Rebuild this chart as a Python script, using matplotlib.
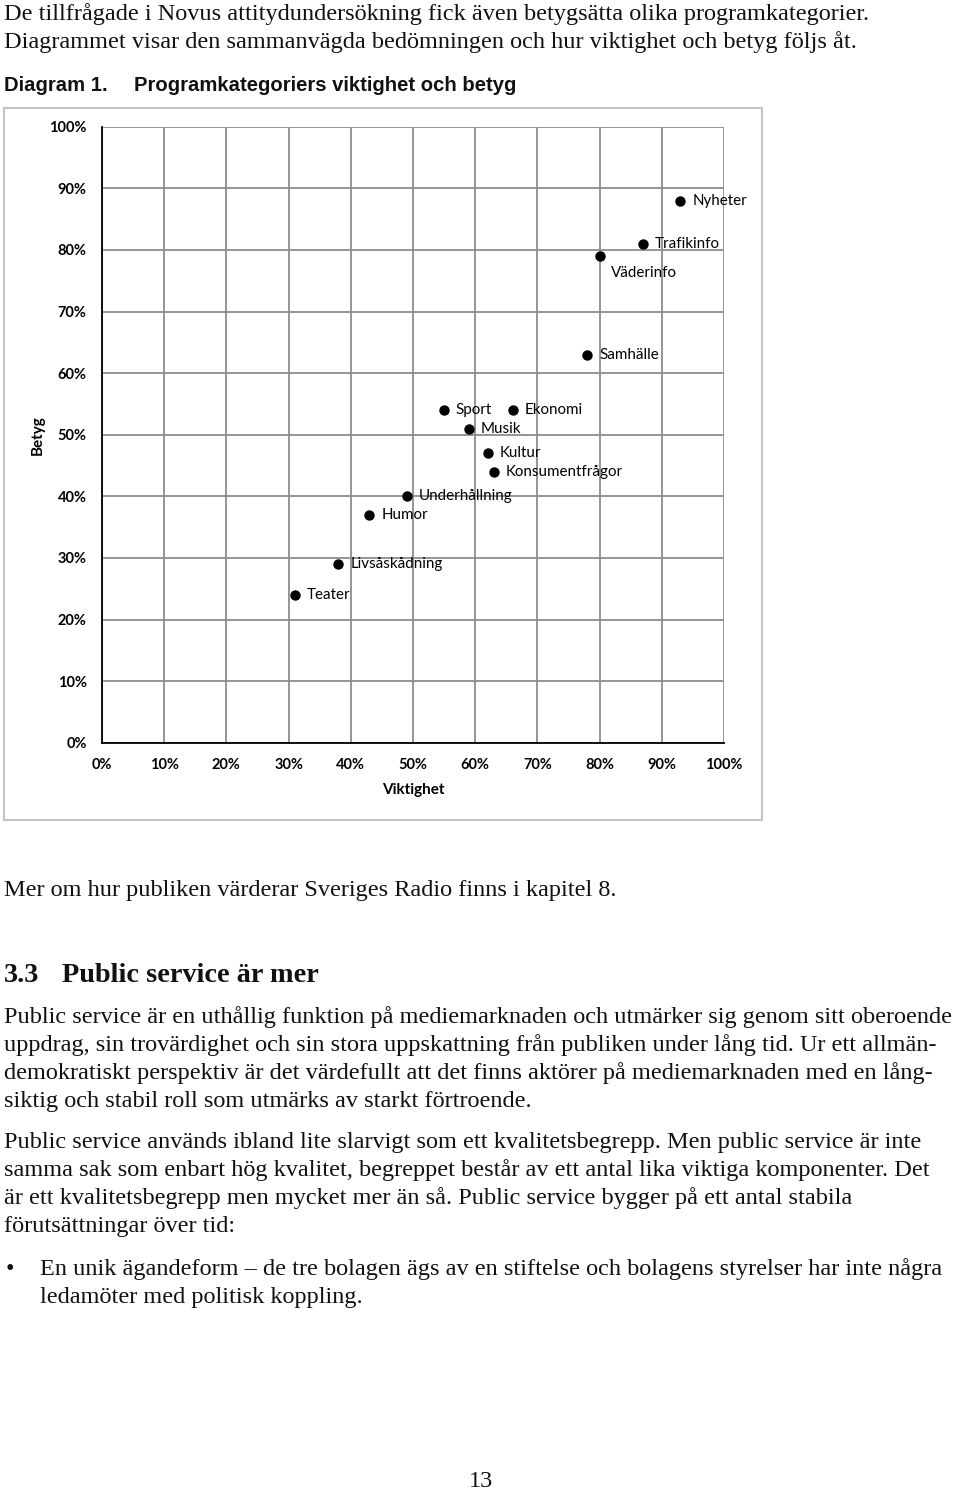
import matplotlib
matplotlib.use("Agg")
import matplotlib.pyplot as plt
import matplotlib.ticker as ticker
from matplotlib.patches import Rectangle

# data (percent)
categories = ["Nyheter", "Trafikinfo", "Väderinfo", "Samhälle", "Sport", "Ekonomi",
              "Musik", "Kultur", "Konsumentfrågor", "Underhållning", "Humor",
              "Livsåskådning", "Teater"]
viktighet = [93, 87, 80, 78, 55, 66, 59, 62, 63, 49, 43, 38, 31]
betyg = [88, 81, 79, 63, 54, 54, 51, 47, 44, 40, 37, 29, 24]
tick_vals = [0, 10, 20, 30, 40, 50, 60, 70, 80, 90, 100]

W, H = 960, 1493
fig = plt.figure(figsize=(W / 100, H / 100), dpi=100)
fig.patch.set_facecolor("white")

serif = ["Liberation Serif", "DejaVu Serif"]
chart_font = ["Lato", "DejaVu Sans"]


def fy(y):
    return 1 - y / H


def fx(x):
    return x / W


def line(x, y, s, **kw):
    fig.text(fx(x), fy(y), s, va="baseline", ha="left", **kw)


# top text
body = dict(family=serif, fontsize=17.5, color="#111111")
line(4, 20, "De tillfrågade i Novus attitydundersökning fick även betygsätta olika programkategorier.", **body)
line(4, 48, "Diagrammet visar den sammanvägda bedömningen och hur viktighet och betyg följs åt.", **body)

cap = dict(family=["Liberation Sans", "DejaVu Sans"],
           fontsize=14.6, fontweight="bold", color="#111111")
line(4, 91, "Diagram 1.", **cap)
line(134, 91, "Programkategoriers viktighet och betyg", **cap)

# chart frame
fig.patches.append(Rectangle((fx(4), fy(820)), fx(758), (820 - 108) / H,
                             transform=fig.transFigure, fill=False,
                             edgecolor="#c4c4c4", linewidth=1.5))

ax = fig.add_axes([fx(102), fy(742.7), fx(622), 616 / H])
ax.scatter(viktighet, betyg, s=42, color="black", zorder=3, clip_on=False)
for name, x, y in zip(categories, viktighet, betyg):
    if name == "Väderinfo":
        ax.annotate(name, (x, y), xytext=(8, -12), textcoords="offset points",
                    va="center", ha="left", family=chart_font, fontsize=10.9)
    else:
        ax.annotate(name, (x, y), xytext=(8.5, 0), textcoords="offset points",
                    va="center", ha="left", family=chart_font, fontsize=10.9)

ax.set_xlim(0, 100)
ax.set_ylim(0, 100)
ax.set_xticks(tick_vals)
ax.set_yticks(tick_vals)
ax.xaxis.set_major_formatter(ticker.FuncFormatter(lambda v, p: "%d%%" % v))
ax.yaxis.set_major_formatter(ticker.FuncFormatter(lambda v, p: "%d%%" % v))
ax.grid(True, color="#8c8c8c", linewidth=1.3)
ax.set_axisbelow(True)
for side in ["top", "right"]:
    ax.spines[side].set_visible(False)
for side in ["left", "bottom"]:
    ax.spines[side].set_color("black")
    ax.spines[side].set_linewidth(1.3)
ax.tick_params(length=0, pad=11, labelsize=10.5)
for lab in ax.get_xticklabels() + ax.get_yticklabels():
    lab.set_family(chart_font)
    lab.set_fontweight("bold")
ax.set_xlabel("Viktighet", family=chart_font, fontsize=11, fontweight="bold", va="center")
ax.set_ylabel("Betyg", family=chart_font, fontsize=11, fontweight="bold", va="center")
ax.xaxis.set_label_coords(0.5, -0.077)
ax.yaxis.set_label_coords(-0.103, 0.5)

# text below the chart
line(4, 896, "Mer om hur publiken värderar Sveriges Radio finns i kapitel 8.", **body)
fig.text(fx(4), fy(982), "3.3", family=serif, fontsize=20.3, fontweight="bold",
         va="baseline", color="#111111")
fig.text(fx(62), fy(982), "Public service är mer", family=serif, fontsize=20.3,
         fontweight="bold", va="baseline", color="#111111")

para1 = ["Public service är en uthållig funktion på mediemarknaden och utmärker sig genom sitt oberoende",
         "uppdrag, sin trovärdighet och sin stora uppskattning från publiken under lång tid. Ur ett allmän-",
         "demokratiskt perspektiv är det värdefullt att det finns aktörer på mediemarknaden med en lång-",
         "siktig och stabil roll som utmärks av starkt förtroende."]
para2 = ["Public service används ibland lite slarvigt som ett kvalitetsbegrepp. Men public service är inte",
         "samma sak som enbart hög kvalitet, begreppet består av ett antal lika viktiga komponenter. Det",
         "är ett kvalitetsbegrepp men mycket mer än så. Public service bygger på ett antal stabila",
         "förutsättningar över tid:"]
for i, s in enumerate(para1):
    line(4, 1023 + i * 28, s, **body)
for i, s in enumerate(para2):
    line(4, 1148 + i * 28, s, **body)

line(6, 1275, "•", **body)
line(40, 1275, "En unik ägandeform – de tre bolagen ägs av en stiftelse och bolagens styrelser har inte några", **body)
line(40, 1303, "ledamöter med politisk koppling.", **body)

fig.text(fx(481), fy(1492), "13", family=serif, fontsize=17.5, ha="center",
         va="bottom", color="#111111")

fig.savefig("out.png", dpi=100, facecolor="white")
